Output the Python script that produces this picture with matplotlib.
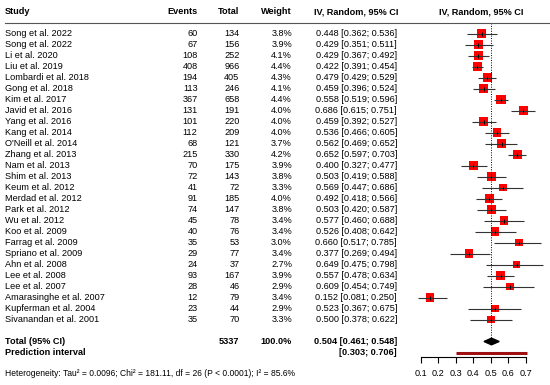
import matplotlib
matplotlib.use("Agg")
import matplotlib.pyplot as plt
from matplotlib.transforms import blended_transform_factory

plt.rcParams['font.family'] = ['Liberation Sans', 'DejaVu Sans']

studies = ["Song et al. 2022", "Song et al. 2022", "Li et al. 2020", "Liu et al. 2019",
           "Lombardi et al. 2018", "Gong et al. 2018", "Kim et al. 2017", "Javid et al. 2016",
           "Yang et al. 2016", "Kang et al. 2014", "O'Neill et al. 2014", "Zhang et al. 2013",
           "Nam et al. 2013", "Shim et al. 2013", "Keum et al. 2012", "Merdad et al. 2012",
           "Park et al. 2012", "Wu et al. 2012", "Koo et al. 2009", "Farrag et al. 2009",
           "Spriano et al. 2009", "Ahn et al. 2008", "Lee et al. 2008", "Lee et al. 2007",
           "Amarasinghe et al. 2007", "Kupferman et al. 2004", "Sivanandan et al. 2001"]
events = [60, 67, 108, 408, 194, 113, 367, 131, 101, 112, 68, 215, 70, 72, 41, 91,
          74, 45, 40, 35, 29, 24, 93, 28, 12, 23, 35]
totals = [134, 156, 252, 966, 405, 246, 658, 191, 220, 209, 121, 330, 175, 143, 72, 185,
          147, 78, 76, 53, 77, 37, 167, 46, 79, 44, 70]
weights = [3.8, 3.9, 4.1, 4.4, 4.3, 4.1, 4.4, 4.0, 4.0, 4.0, 3.7, 4.2, 3.9, 3.8, 3.3, 4.0,
           3.8, 3.4, 3.4, 3.0, 3.4, 2.7, 3.9, 2.9, 3.4, 2.9, 3.3]
est = [0.448, 0.429, 0.429, 0.422, 0.479, 0.459, 0.558, 0.686, 0.459, 0.536, 0.562, 0.652,
       0.400, 0.503, 0.569, 0.492, 0.503, 0.577, 0.526, 0.660, 0.377, 0.649, 0.557, 0.609,
       0.152, 0.523, 0.500]
lower = [0.362, 0.351, 0.367, 0.391, 0.429, 0.396, 0.519, 0.615, 0.392, 0.466, 0.469, 0.597,
         0.327, 0.419, 0.447, 0.418, 0.420, 0.460, 0.408, 0.517, 0.269, 0.475, 0.478, 0.454,
         0.081, 0.367, 0.378]
upper = [0.536, 0.511, 0.492, 0.454, 0.529, 0.524, 0.596, 0.751, 0.527, 0.605, 0.652, 0.703,
         0.477, 0.588, 0.686, 0.566, 0.587, 0.688, 0.642, 0.785, 0.494, 0.798, 0.634, 0.749,
         0.250, 0.675, 0.622]
pooled = (0.504, 0.461, 0.548)
pred = (0.303, 0.706)
total_n = 5337
ticks = [0.1, 0.2, 0.3, 0.4, 0.5, 0.6, 0.7]
het_text = ("Heterogeneity: Tau\u00b2 = 0.0096; Chi\u00b2 = 181.11, df = 26 "
            "(P < 0.0001); I\u00b2 = 85.6%")

W, H = 550, 385
fig = plt.figure(figsize=(W / 100, H / 100), dpi=100)

# forest panel: 0.1 -> x=421px, 0.7 -> x=525.7px ; row r -> y = 33.5 + 11 r (from top)
ppu = (525.7 - 421) / 0.6
ax_l, ax_r = 400, 550
ax = fig.add_axes([ax_l / W, 0, (ax_r - ax_l) / W, 1])
ax.set_xlim(0.1 - (421 - ax_l) / ppu, 0.7 + (ax_r - 525.7) / ppu)
ax.set_ylim((H - 33.5) / 11, -33.5 / 11)
ax.patch.set_visible(False)
for s in ["top", "left", "right"]:
    ax.spines[s].set_visible(False)
ax.spines["bottom"].set_position(("data", 29.45))
ax.spines["bottom"].set_bounds(ticks[0], ticks[-1])
ax.spines["bottom"].set_linewidth(0.8)
ax.set_yticks([])
ax.set_xticks(ticks)
ax.set_xticklabels([f"{t:.1f}" for t in ticks])
ax.tick_params(axis="x", length=4, width=0.8, pad=4, labelsize=6.6, colors="black")

fs = 6.6
rows = list(range(len(studies)))
total_row, pred_row = 28, 29

# study CIs and squares
ax.hlines(rows, lower, upper, color="#333333", lw=0.8, zorder=3)
ax.scatter(est, rows, marker="s", s=[10 * w for w in weights], color="#ff0000",
           edgecolor="none", zorder=2)
ax.scatter(est, rows, marker="|", s=6, color="black", lw=0.7, zorder=4)

# pooled diamond
d_x = [pooled[1], pooled[0], pooled[2], pooled[0], pooled[1]]
d_y = [total_row, total_row - 0.3, total_row, total_row + 0.3, total_row]
ax.fill(d_x, d_y, color="black", zorder=3)
ax.vlines(pooled[0], -1, total_row - 0.3, color="black", lw=0.7, linestyles=(0, (1, 1.5)))

# prediction interval
ax.hlines(pred_row, pred[0], pred[1], color="#a01010", lw=2.2, zorder=3)

tr = blended_transform_factory(fig.transFigure, ax.transData)

# header separator
ax.plot([5 / W, 1], [-1, -1], color="#555555", lw=0.8, transform=tr, clip_on=False)

def put(px, r, s, ha="left", bold=False, size=fs):
    ax.text(px / W, r, s, transform=tr, ha=ha, va="center", fontsize=size,
            fontweight="bold" if bold else "normal", clip_on=False)

# header
hr = -2
put(5, hr, "Study", bold=True)
put(197.5, hr, "Events", ha="right", bold=True)
put(239.5, hr, "Total", ha="right", bold=True)
put(292, hr, "Weight", ha="right", bold=True)
put(314, hr, "IV, Random, 95% CI", bold=True)
put(481, hr, "IV, Random, 95% CI", ha="center", bold=True)

for i in rows:
    put(5, i, studies[i])
    put(197.5, i, str(events[i]), ha="right")
    put(239.5, i, str(totals[i]), ha="right")
    put(292, i, f"{weights[i]:.1f}%", ha="right")
    put(397, i, f"{est[i]:.3f} [{lower[i]:.3f}; {upper[i]:.3f}]", ha="right")

put(5, total_row, "Total (95% CI)", bold=True)
put(239.5, total_row, str(total_n), ha="right", bold=True)
put(292, total_row, "100.0%", ha="right", bold=True)
put(397, total_row, f"{pooled[0]:.3f} [{pooled[1]:.3f}; {pooled[2]:.3f}]", ha="right", bold=True)
put(5, pred_row, "Prediction interval", bold=True)
put(397, pred_row, f"[{pred[0]:.3f}; {pred[1]:.3f}]", ha="right", bold=True)

put(5, 30.9, het_text, size=6.15)

fig.savefig("out.png", dpi=100)
